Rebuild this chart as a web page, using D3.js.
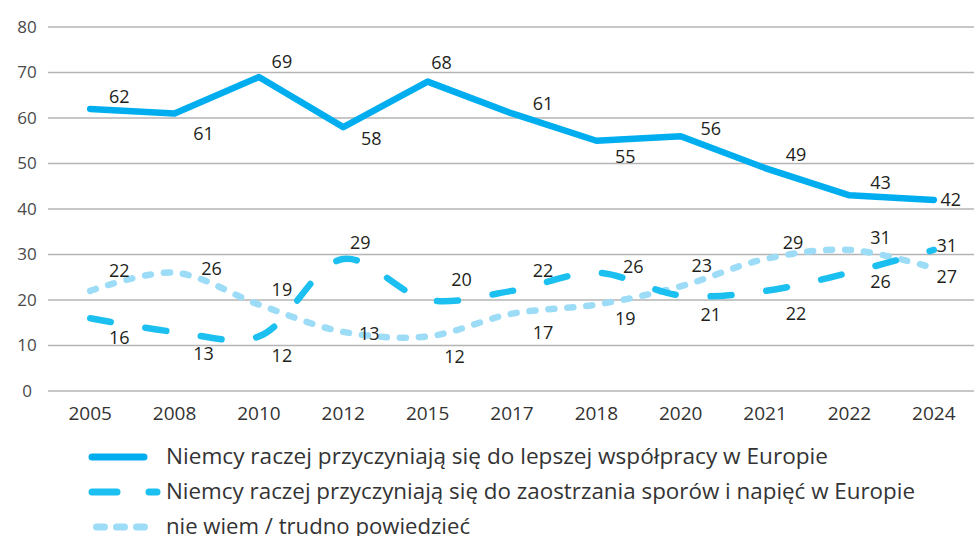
<!DOCTYPE html>
<html>
<head>
<meta charset="utf-8">
<script src="https://cdn.jsdelivr.net/npm/d3@7"></script>
<style>
  body { margin: 0; background: #fff; }
  svg { display: block; }
</style>
</head>
<body>
<svg id="chart" width="974" height="536"></svg>
<script>
const years = ["2005", "2008", "2010", "2012", "2015", "2017", "2018", "2020", "2021", "2022", "2024"];
const cooperation = [62, 61, 69, 58, 68, 61, 55, 56, 49, 43, 42];
const tensions = [16, 13, 12, 29, 20, 22, 26, 21, 22, 26, 31];
const dontKnow = [22, 26, 19, 13, 12, 17, 19, 23, 29, 31, 27];
const yTicks = [0, 10, 20, 30, 40, 50, 60, 70, 80];
const seriesNames = [
    "Niemcy raczej przyczyniają się do lepszej współpracy w Europie",
    "Niemcy raczej przyczyniają się do zaostrzania sporów i napięć w Europie",
    "nie wiem / trudno powiedzieć"
];

// label offsets (dx, dy) relative to the point, as placed in the original
const labelOffsets1 = [[29,-12],[29,20],[23,-15],[28,12],[14,-19],[31,-10],[29,16],[30,-8],[31,-13],[31,-13],[17,0]];
const labelOffsets2 = [[29,19],[29,22],[23,19],[17,-16],[34,-20],[31,-20],[37,-6],[30,19],[31,23],[31,9],[13,-4]];
const labelOffsets3 = [[29,-20],[37,-4],[23,-15],[26,2],[27,20],[31,19],[29,14],[21,-21],[28,-16],[31,-12],[13,9]];

const svg = d3.select("#chart");
const numFont = "'Open Sans', 'Noto Sans', sans-serif";

const x = d3.scalePoint()
    .domain(years)
    .range([48, 976])
    .padding(0.5);

const y = d3.scaleLinear()
    .domain([0, 80])
    .range([391, 27]);

// gridlines
svg.append("g")
    .selectAll("line")
    .data(yTicks)
    .enter()
    .append("line")
    .attr("x1", 48)
    .attr("x2", 974)
    .attr("y1", d => y(d))
    .attr("y2", d => y(d))
    .attr("stroke", "#b5b5b5")
    .attr("stroke-width", 1.3);

// y labels
svg.append("g")
    .selectAll("text")
    .data(yTicks)
    .enter()
    .append("text")
    .attr("x", 27)
    .attr("y", d => y(d))
    .attr("dy", "0.35em")
    .attr("text-anchor", "middle")
    .style("font-family", numFont)
    .style("font-size", "17px")
    .style("fill", "#4a4a4a")
    .text(d => d);

// x labels
svg.append("g")
    .selectAll("text")
    .data(years)
    .enter()
    .append("text")
    .attr("x", d => x(d))
    .attr("y", 413)
    .attr("dy", "0.35em")
    .attr("text-anchor", "middle")
    .style("font-family", numFont)
    .style("font-size", "19px")
    .style("fill", "#333")
    .text(d => d);

const series = [
    { values: cooperation, color: "#00aeef", dash: null, curve: d3.curveLinear, offsets: labelOffsets1 },
    { values: tensions, color: "#1cc0f0", dash: "21,35", curve: d3.curveCatmullRom, offsets: labelOffsets2 },
    { values: dontKnow, color: "#9ddcf6", dash: "6,13", curve: d3.curveCatmullRom, offsets: labelOffsets3 }
];

// draw in reverse so the solid line is on top
series.slice().reverse().forEach(s => {
    const line = d3.line()
        .x((d, i) => x(years[i]))
        .y(d => y(d))
        .curve(s.curve);

    svg.append("path")
        .datum(s.values)
        .attr("d", line)
        .attr("fill", "none")
        .attr("stroke", s.color)
        .attr("stroke-width", 6.5)
        .attr("stroke-linecap", "round")
        .attr("stroke-linejoin", "round")
        .attr("stroke-dasharray", s.dash);
});

series.forEach(s => {
    svg.append("g")
        .selectAll("text")
        .data(s.values)
        .enter()
        .append("text")
        .attr("x", (d, i) => x(years[i]) + s.offsets[i][0])
        .attr("y", (d, i) => y(d) + s.offsets[i][1])
        .attr("dy", "0.35em")
        .attr("text-anchor", "middle")
        .style("font-family", numFont)
        .style("font-size", "18px")
        .style("fill", "#231f20")
        .text(d => d);
});

// legend
const legendRows = [457, 492, 527];
const legendDash = [null, "25,32,8,100", "8,12"];
const legendStart = [92, 92, 96.5];
const legendEnd = [144, 157, 144.5];
const legendWidths = [662, 749, 304];

series.forEach((s, i) => {
    svg.append("line")
        .attr("x1", legendStart[i])
        .attr("x2", legendEnd[i])
        .attr("y1", legendRows[i])
        .attr("y2", legendRows[i])
        .attr("stroke", s.color)
        .attr("stroke-width", 7)
        .attr("stroke-linecap", "round")
        .attr("stroke-dasharray", legendDash[i]);

    svg.append("text")
        .attr("x", 166)
        .attr("y", legendRows[i])
        .attr("dy", "0.35em")
        .attr("textLength", legendWidths[i])
        .attr("lengthAdjust", "spacingAndGlyphs")
        .style("font-family", numFont)
        .style("font-size", "21px")
        .style("fill", "#333")
        .text(seriesNames[i]);
});
</script>
</body>
</html>
